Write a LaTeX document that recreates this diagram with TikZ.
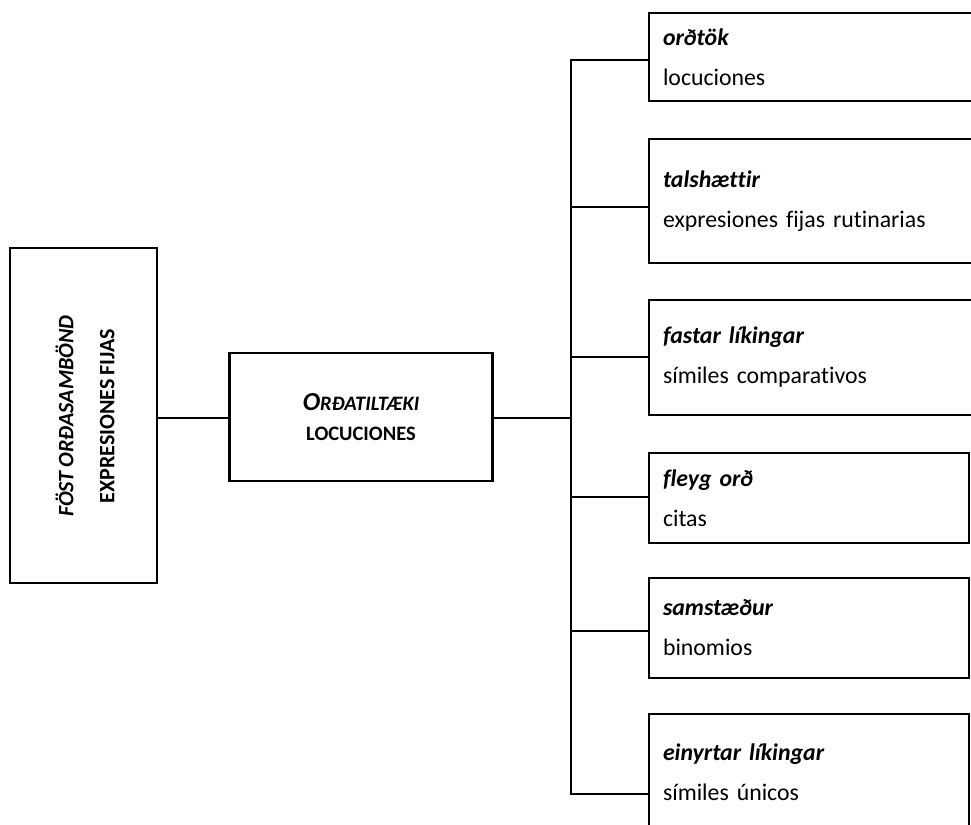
\documentclass[tikz,border=0pt]{standalone}
\usepackage{fontspec}
\setmainfont{Carlito}[Ligatures=NoCommon,WordSpace=0.8]
\begin{document}
\begin{tikzpicture}[x=1pt,y=-1pt,
  box/.style={draw=black,line width=2.2pt,rectangle,inner sep=0pt},
  leaf/.style={box,text width=#1,align=left,font=\fontsize{23.8}{40}\selectfont},
  link/.style={line width=2.2pt,line cap=rect}]
\useasboundingbox (0,0) rectangle (971,824);
\clip (0,0) rectangle (971,824);
% left box
\node[box,minimum width=147pt,minimum height=335pt] (root) at (83.5,415.5) {};
\node[rotate=90,align=center,inner sep=0pt,font=\fontsize{22}{40}\selectfont\bfseries] (rootlabel) at (85,416)
  {\textit{FÖST ORÐASAMBÖND}\\[1pt]EXPRESIONES FIJAS};
% middle box
\node[box,minimum width=263pt,minimum height=128pt,align=center] (mid) at (361,417)
  {{\fontsize{26}{26}\selectfont\bfseries\itshape O\fontsize{20.5}{20.5}\selectfont RÐATILTÆKI}\\[16pt]
   {\fontsize{20.5}{20.5}\selectfont\bfseries LOCUCIONES}};
% leaves
\node[leaf=313pt,minimum width=341pt,minimum height=88pt] (l1) at (819.5,57)
  {\textbf{\textit{orðtök}}\\locuciones};
\node[leaf=313pt,minimum width=341pt,minimum height=124pt] (l2) at (819.5,201)
  {\textbf{\textit{talshættir}}\\expresiones fijas rutinarias};
\node[leaf=313pt,minimum width=341pt,minimum height=115pt] (l3) at (819.5,357.5)
  {\textbf{\textit{fastar líkingar}}\\símiles comparativos};
\node[leaf=292pt,minimum width=320pt,minimum height=90pt] (l4) at (809,498)
  {\textbf{\textit{fleyg orð}}\\citas};
\node[leaf=292pt,minimum width=320pt,minimum height=100pt] (l5) at (809,628)
  {\textbf{\textit{samstæður}}\\binomios};
\node[leaf=292pt,minimum width=320pt,minimum height=116pt] (l6) at (809,772)
  {\textbf{\textit{einyrtar líkingar}}\\símiles únicos};
% connectors
\coordinate (trunk) at (571,418);
\draw[link] (root.east |- 0,418) -- (mid.west |- 0,418);
\draw[link] (mid.east |- 0,418) -- (trunk);
\draw[link] (l1.west |- 0,60) -| (571,794) -- (l6.west |- 0,794);
\draw[link] (571,207) -- (l2.west |- 0,207);
\draw[link] (571,357) -- (l3.west |- 0,357);
\draw[link] (571,497) -- (l4.west |- 0,497);
\draw[link] (571,631) -- (l5.west |- 0,631);
\end{tikzpicture}
\end{document}
